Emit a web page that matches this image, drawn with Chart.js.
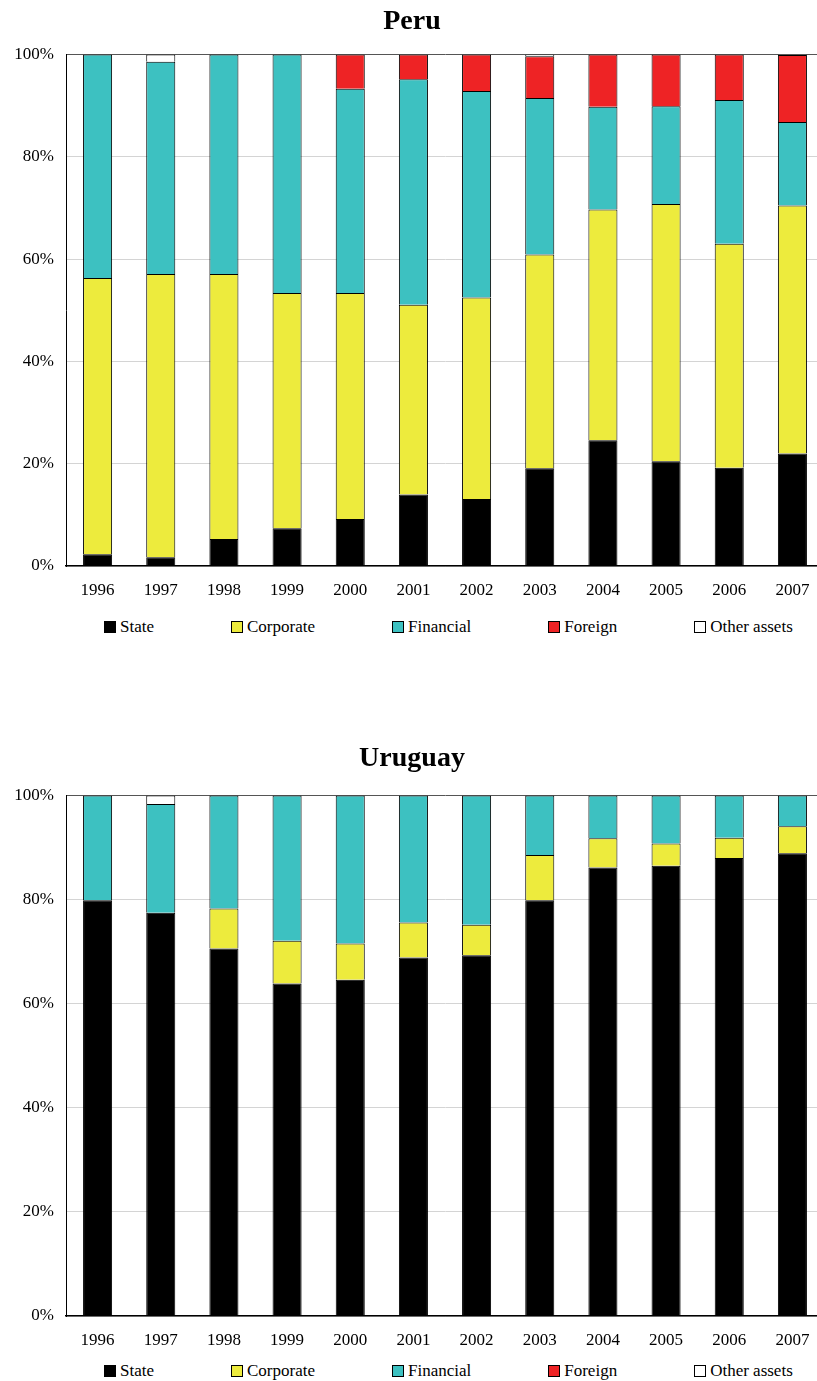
<!DOCTYPE html>
<html lang="en">
  <head>
    <meta charset="UTF-8" />
    <title>Peru / Uruguay</title>
    <script src="https://cdn.jsdelivr.net/npm/chart.js"></script>
    <style>
      html, body { margin: 0; padding: 0; overflow: hidden; background: #fff; }
      body { width: 817px; height: 1381px; position: relative; font-family: "Liberation Serif", serif; }
      .panel { position: absolute; left: 0; width: 824px; }
      .legend { position: absolute; left: 104px; display: flex; gap: 77px; font-size: 17px; line-height: 20px; color: #000; white-space: nowrap; }
      .legend .item { display: flex; align-items: center; }
      .legend i { display: inline-block; width: 10px; height: 10px; border: 1px solid #000; margin-right: 4px; }
    </style>
  </head>
  <body>
    <div class="panel" style="top: 0px"><canvas id="peruChart" width="824" height="610"></canvas></div>
    <div class="legend" id="peruLegend" style="top: 617px"></div>
    <div class="panel" style="top: 720px"><canvas id="uruguayChart" width="824" height="640"></canvas></div>
    <div class="legend" id="uruguayLegend" style="top: 1361px"></div>

    <script>
      // data (% of portfolio)
      const years = ["1996", "1997", "1998", "1999", "2000", "2001", "2002", "2003", "2004", "2005", "2006", "2007"];
      const seriesNames = ["State", "Corporate", "Financial", "Foreign", "Other assets"];
      const seriesColors = ["#000000", "#EDEB3D", "#3DC1C1", "#EE2325", "#FFFFFF"];
      const yTicks = [0, 20, 40, 60, 80, 100];

      const peruState = [2.3, 1.7, 5.3, 7.4, 9.2, 14.0, 13.1, 19.1, 24.6, 20.5, 19.2, 22.0];
      const peruCorporate = [54.0, 55.4, 51.8, 46.0, 44.2, 37.1, 39.4, 41.8, 45.1, 50.3, 43.8, 48.5];
      const peruFinancial = [43.7, 41.5, 42.9, 46.6, 39.9, 44.1, 40.4, 30.6, 20.1, 19.1, 28.1, 16.3];
      const peruForeign = [0, 0, 0, 0, 6.7, 4.8, 7.1, 8.2, 10.2, 10.1, 8.9, 13.1];
      const peruOther = [0, 1.4, 0, 0, 0, 0, 0, 0.3, 0, 0, 0, 0.1];

      const uruguayState = [79.9, 77.5, 70.6, 63.9, 64.6, 68.9, 69.3, 79.9, 86.2, 86.5, 88.0, 88.9];
      const uruguayCorporate = [0, 0, 7.7, 8.2, 7.0, 6.7, 5.9, 8.7, 5.6, 4.3, 3.9, 5.2];
      const uruguayFinancial = [20.1, 20.9, 21.7, 27.9, 28.4, 24.4, 24.8, 11.4, 8.2, 9.2, 8.1, 5.9];
      const uruguayForeign = [0, 0, 0, 0, 0, 0, 0, 0, 0, 0, 0, 0];
      const uruguayOther = [0, 1.6, 0, 0, 0, 0, 0, 0, 0, 0, 0, 0];

      const font = { family: "Liberation Serif", size: 17 };

      function makeChart(id, legendId, title, series, titlePad) {
        const ctx = document.getElementById(id).getContext("2d");
        const chart = new Chart(ctx, {
          type: "bar",
          data: {
            labels: years,
            datasets: seriesNames.map((name, i) => ({
              label: name,
              data: series[i],
              backgroundColor: seriesColors[i],
              borderColor: "#000",
              borderWidth: 1,
              barPercentage: 0.46,
              categoryPercentage: 1,
            })),
          },
          options: {
            responsive: false,
            animation: false,
            devicePixelRatio: 1,
            layout: { padding: 0 },
            plugins: {
              legend: { display: false },
              tooltip: { enabled: false },
              title: {
                display: true,
                text: title,
                color: "#000",
                font: { family: "Liberation Serif", size: 28, weight: "bold" },
                padding: titlePad,
              },
            },
            scales: {
              x: {
                stacked: true,
                grid: { display: false, drawTicks: false },
                border: { color: "#000", width: 1.5 },
                ticks: { color: "#000", font: font, padding: 14 },
                afterFit: (s) => { s.height = 44; },
              },
              y: {
                stacked: true,
                min: 0,
                max: 100,
                afterBuildTicks: (s) => { s.ticks = yTicks.map((v) => ({ value: v })); },
                ticks: { color: "#000", font: font, padding: 12, callback: (v) => v + "%" },
                grid: { color: (c) => (c.tick && c.tick.value === 100 ? "#555" : "#d4d4d4"), drawTicks: false },
                border: { color: "#000", width: 1 },
                afterFit: (s) => { s.width = 66; },
              },
            },
          },
        });

        // html legend built from the chart's own labels
        const box = document.getElementById(legendId);
        chart.options.plugins.legend.labels.generateLabels(chart).forEach((item) => {
          const el = document.createElement("span");
          el.className = "item";
          el.innerHTML = '<i style="background:' + item.fillStyle + '"></i>' + item.text;
          box.appendChild(el);
        });
        return chart;
      }

      makeChart("peruChart", "peruLegend", "Peru",
        [peruState, peruCorporate, peruFinancial, peruForeign, peruOther],
        { top: 5, bottom: 16 });
      makeChart("uruguayChart", "uruguayLegend", "Uruguay",
        [uruguayState, uruguayCorporate, uruguayFinancial, uruguayForeign, uruguayOther],
        { top: 22, bottom: 20 });
    </script>
  </body>
</html>
